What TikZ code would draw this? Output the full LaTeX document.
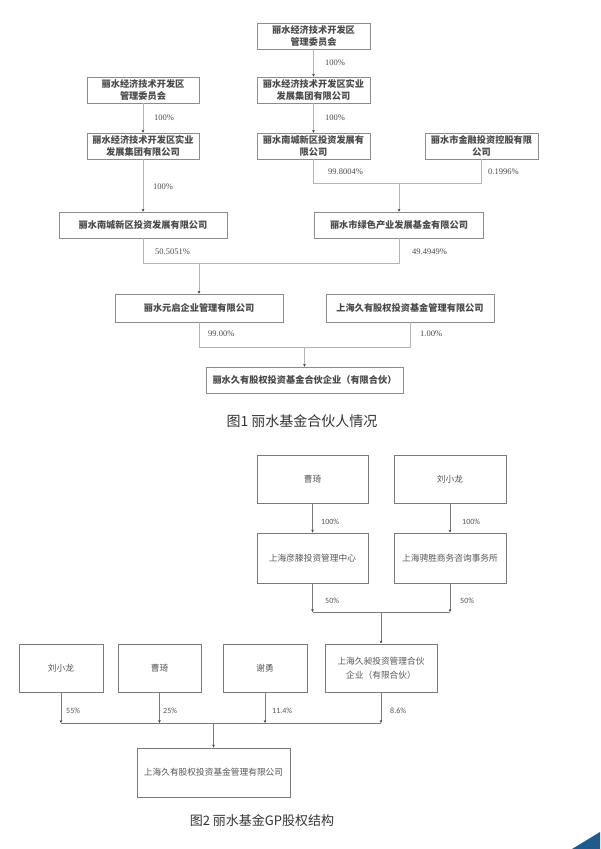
\documentclass[tikz,border=0pt]{standalone}
\usepackage{fontspec}
\usetikzlibrary{arrows.meta}
\newfontfamily\cjk{Noto Sans CJK SC}
\newfontfamily\pctserif{Liberation Serif}
\newfontfamily\pctsans{Carlito}
\definecolor{boxone}{HTML}{8C8C8C}
\definecolor{lineone}{HTML}{B4B4B4}
\definecolor{txtone}{HTML}{4A4A4A}
\definecolor{boxtwo}{HTML}{7A7A7A}
\definecolor{linetwo}{HTML}{7A7A7A}
\definecolor{txttwo}{HTML}{555555}
\definecolor{cornerblue}{HTML}{1E5C8E}
\tikzset{
  boxa/.style={draw=boxone, line width=0.9pt, inner sep=0pt, align=center,
    text=txtone, font=\cjk\bfseries\fontsize{9.2}{12}\selectfont, minimum height=26pt},
  boxb/.style={draw=boxtwo, line width=0.8pt, inner sep=0pt, align=center,
    text=txttwo, font=\cjk\fontsize{8.7}{13.5}\selectfont, minimum height=48pt},
  linea/.style={draw=lineone, line width=0.8pt},
  lineb/.style={draw=linetwo, line width=0.7pt},
  arra/.style={-{Stealth[length=2.6pt,width=2.6pt,color=black!80]}},
  arrb/.style={-{Stealth[length=3pt,width=2.6pt,color=black!75]}},
  pcta/.style={anchor=west, inner sep=0pt, text=txtone, font=\pctserif\fontsize{8.5}{10}\selectfont},
  pctb/.style={anchor=west, inner sep=0pt, text=txttwo, font=\pctsans\fontsize{8}{9}\selectfont},
  capt/.style={inner sep=0pt, text=black!80, font=\cjk\fontsize{13}{15}\selectfont}
}
\begin{document}
\begin{tikzpicture}[x=1pt, y=-1pt]
\useasboundingbox (0,0) rectangle (600,849);
\fill[white] (0,0) rectangle (600,849);
% ---------------- Figure 1 ----------------
\node[boxa, minimum width=113pt] (t1) at (313.5,36) {丽水经济技术开发区\\管理委员会};
\node[boxa, minimum width=112pt] (l2) at (143,90) {丽水经济技术开发区\\管理委员会};
\node[boxa, minimum width=113pt] (m2) at (313.5,90) {丽水经济技术开发区实业\\发展集团有限公司};
\node[boxa, minimum width=112pt] (l3) at (143,146) {丽水经济技术开发区实业\\发展集团有限公司};
\node[boxa, minimum width=113pt] (m3) at (313.5,146) {丽水南城新区投资发展有\\限公司};
\node[boxa, minimum width=113pt] (r3) at (481.5,146) {丽水市金融投资控股有限\\公司};
\node[boxa, minimum width=168pt] (l4) at (143,225) {丽水南城新区投资发展有限公司};
\node[boxa, minimum width=169pt] (r4) at (399,225) {丽水市绿色产业发展基金有限公司};
\node[boxa, minimum width=168pt, minimum height=28pt] (l5) at (199,308) {丽水元启企业管理有限公司};
\node[boxa, minimum width=168pt, minimum height=28pt] (r5) at (410,308) {上海久有股权投资基金管理有限公司};
\node[boxa, minimum width=197pt] (f1) at (304.5,380) {丽水久有股权投资基金合伙企业（有限合伙）};

\coordinate (j1) at (399,183);
\coordinate (j2) at (199,263);
\coordinate (j3) at (304.5,347);

\draw[linea, arra] (t1) -- (m2);
\draw[linea, arra] (l2) -- (l3);
\draw[linea, arra] (m2) -- (m3);
\draw[linea] (m3.south) -- (m3.south |- j1) -- (r3.south |- j1) -- (r3.south);
\draw[linea, arra] (j1) -- (r4.north);
\draw[linea, arra] (l3) -- (l4);
\draw[linea] (l4.south) -- (l4.south |- j2) -- (r4.south |- j2) -- (r4.south);
\draw[linea, arra] (j2) -- (l5.north);
\draw[linea] (l5.south) -- (l5.south |- j3) -- (r5.south |- j3) -- (r5.south);
\draw[linea, arra] (j3) -- (f1.north);

\node[pcta] (p1) at (325,63) {100\%};
\node[pcta] (p2) at (154,118) {100\%};
\node[pcta] (p3) at (325,118) {100\%};
\node[pcta] (p4) at (328,172) {99.8004\%};
\node[pcta] (p5) at (488,172) {0.1996\%};
\node[pcta] (p6) at (153,187) {100\%};
\node[pcta] (p7) at (155,252) {50.5051\%};
\node[pcta] (p8) at (412,252) {49.4949\%};
\node[pcta] (p9) at (208,334) {99.00\%};
\node[pcta] (p10) at (420,334) {1.00\%};

\node[capt, font=\cjk\fontsize{14}{16}\selectfont] (cap1) at (302,421) {图1 丽水基金合伙人情况};

% ---------------- Figure 2 ----------------
\node[boxb, minimum width=111pt] (a1) at (312.5,479) {曹琦};
\node[boxb, minimum width=112pt] (a2) at (450,479) {刘小龙};
\node[boxb, minimum width=111pt, minimum height=50pt] (b1) at (312.5,558) {上海彦滕投资管理中心};
\node[boxb, minimum width=112pt, minimum height=50pt] (b2) at (450,558) {上海骋胜商务咨询事务所};
\node[boxb, minimum width=84pt] (c1) at (61,668) {刘小龙};
\node[boxb, minimum width=83pt] (c2) at (159.5,668) {曹琦};
\node[boxb, minimum width=84pt] (c3) at (265,668) {谢勇};
\node[boxb, minimum width=112pt] (c4) at (381,668) {上海久昶投资管理合伙\\企业（有限合伙）};
\node[boxb, minimum width=153pt, minimum height=49pt] (d1) at (213.5,772.5) {上海久有股权投资基金管理有限公司};

\coordinate (k1) at (381,612);
\coordinate (k2) at (213.5,723);

\draw[lineb, arrb] (a1) -- (b1);
\draw[lineb, arrb] (a2) -- (b2);
\draw[lineb, arrb] (b1.south) -- (b1.south |- k1);
\draw[lineb, arrb] (b2.south) -- (b2.south |- k1);
\draw[lineb] (b1.south |- k1) -- (b2.south |- k1);
\draw[lineb, arrb] (k1) -- (c4.north);
\draw[lineb, arrb] (c1.south) -- (c1.south |- k2);
\draw[lineb, arrb] (c2.south) -- (c2.south |- k2);
\draw[lineb, arrb] (c3.south) -- (c3.south |- k2);
\draw[lineb, arrb] (c4.south) -- (c4.south |- k2);
\draw[lineb] (c1.south |- k2) -- (c4.south |- k2);
\draw[lineb, arrb] (k2) -- (d1.north);

\node[pctb] (q1) at (321,522) {100\%};
\node[pctb] (q2) at (462,522) {100\%};
\node[pctb] (q3) at (325,601) {50\%};
\node[pctb] (q4) at (460,601) {50\%};
\node[pctb] (q5) at (66,711) {55\%};
\node[pctb] (q6) at (163,711) {25\%};
\node[pctb] (q7) at (272,711) {11.4\%};
\node[pctb] (q8) at (390,711) {8.6\%};

\node[capt] (cap2) at (262,821) {图2 丽水基金GP股权结构};

% corner mark
\fill[cornerblue] (572,849) -- (600,832) -- (600,849) -- cycle;
\end{tikzpicture}
\end{document}
